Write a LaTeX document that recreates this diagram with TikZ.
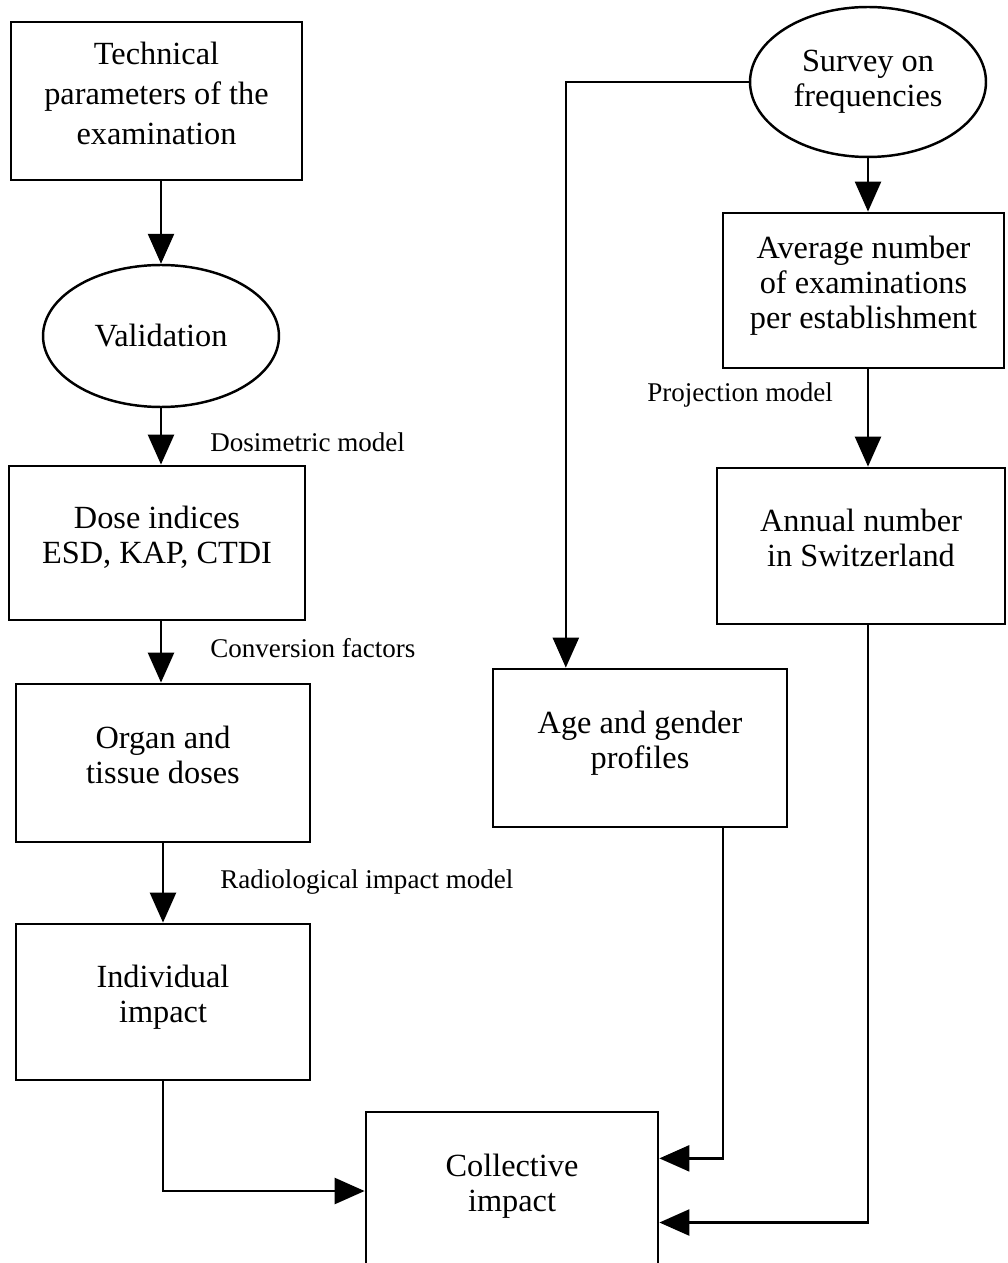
\documentclass[tikz,border=0pt]{standalone}
\usepackage{fontspec}
\setmainfont{Liberation Serif}
\usetikzlibrary{arrows.meta,positioning,calc,shapes.geometric}
\tikzset{
  >=Triangle,
  box/.style={draw=black,line width=1.6pt,fill=white,align=center,font=\fontsize{18.4}{20}\selectfont,inner sep=0pt,text depth=9pt},
  oval/.style={ellipse,draw=black,line width=1.4pt,fill=white,align=center,font=\fontsize{18.4}{20}\selectfont,inner sep=0pt},
  note/.style={font=\fontsize{15.4}{18}\selectfont,anchor=west,inner sep=0pt},
  flow/.style={-{Triangle[length=.6cm,width=.52cm]},line width=1.4pt}
}

\begin{document}
\begin{tikzpicture}[x=.02cm,y=-.02cm]
  \useasboundingbox (0,0) rectangle (1007,1263);
  % left column
  \node[box,minimum width=5.82cm,minimum height=3.16cm,font=\fontsize{18.4}{22.8}\selectfont] (tech) at (156.5,101) {Technical\\parameters of the\\examination};
  \node[oval,minimum width=4.72cm,minimum height=2.84cm] (val) at (161,336) {Validation};
  \node[box,minimum width=5.92cm,minimum height=3.08cm] (dose) at (157,543) {Dose indices\\ESD, KAP, CTDI};
  \node[box,minimum width=5.88cm,minimum height=3.16cm] (organ) at (163,763) {Organ and\\tissue doses};
  \node[box,minimum width=5.88cm,minimum height=3.12cm] (indiv) at (163,1002) {Individual\\impact};
  \node[box,minimum width=5.84cm,minimum height=3.16cm] (coll) at (512,1191) {Collective\\impact};
  % right column
  \node[oval,minimum width=4.72cm,minimum height=3.0cm] (survey) at (868,82) {Survey on\\frequencies};
  \node[box,minimum width=5.62cm,minimum height=3.1cm] (avg) at (863.5,290.5) {Average number\\of examinations\\per establishment};
  \node[box,minimum width=5.76cm,minimum height=3.12cm] (annual) at (861,546) {Annual number\\in Switzerland};
  \node[box,minimum width=5.88cm,minimum height=3.16cm] (age) at (640,748) {Age and gender\\profiles};
  % model labels
  \node[note] (dosim) at (210,442) {Dosimetric model};
  \node[note] (conv) at (210,648) {Conversion factors};
  \node[note] (radio) at (220,882) {Radiological impact model};
  \node[note] (proj) at (647,395) {Projection model};
  % connectors
  \coordinate (agein) at ($(age.north west)!.25!(age.north east)$);
  \coordinate (ageout) at ($(age.south west)!.78!(age.south east)$);
  \coordinate (collin1) at ($(coll.north east)!.297!(coll.south east)$);
  \coordinate (collin2) at ($(coll.north east)!.696!(coll.south east)$);
  \draw[flow] (val.north |- tech.south) -- (val.north);
  \draw[flow] (val.south) -- (val.south |- dose.north);
  \draw[flow] (val.south |- dose.south) -- (val.south |- organ.north);
  \draw[flow] (organ.south) -- (indiv.north);
  \draw[flow] (indiv.south) |- (coll.west);
  \draw[flow] (survey.west) -| (agein);
  \draw[flow] (survey.south) -- (survey.south |- avg.north);
  \draw[flow] (survey.south |- avg.south) -- (survey.south |- annual.north);
  \draw[flow] (ageout) |- (collin1);
  \draw[flow] (survey.south |- annual.south) |- (collin2);
\end{tikzpicture}
\end{document}
